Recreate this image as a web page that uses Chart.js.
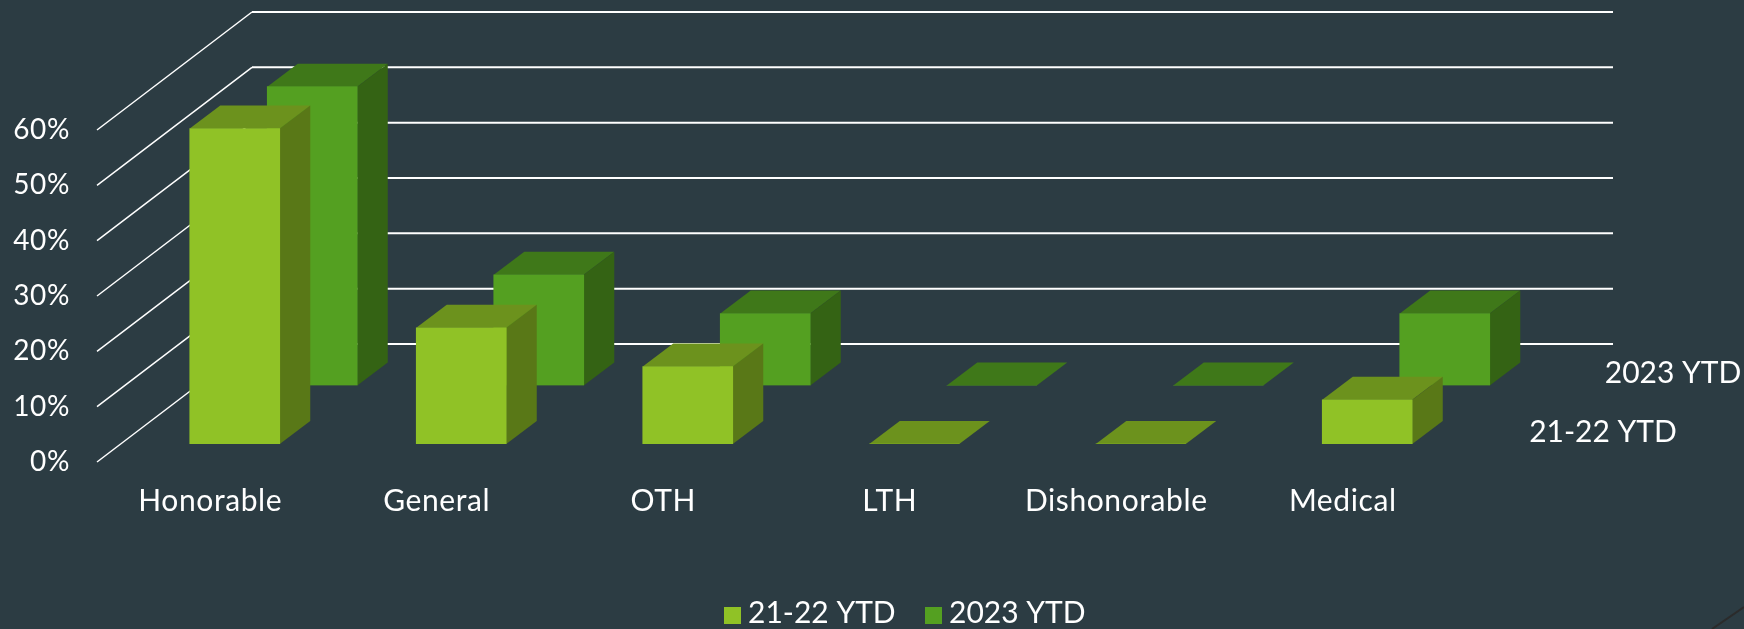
<!DOCTYPE html>
<html>
<head>
<meta charset="utf-8">
<style>
  html, body { margin: 0; padding: 0; background: #2C3C43; overflow: hidden; }
  canvas { display: block; }
</style>
<script src="https://cdn.jsdelivr.net/npm/chart.js@4"></script>
</head>
<body>
<canvas id="myChart" width="1744" height="629"></canvas>
<script>
const categories = ['Honorable', 'General', 'OTH', 'LTH', 'Dishonorable', 'Medical'];
const ytd2122 = [57, 21, 14, 0, 0, 8];
const ytd2023 = [54, 20, 13, 0, 0, 13];

const fontFamily = 'Lato, "Noto Sans", sans-serif';
const fontSize = 30;

// how far the floor runs back, and where each series stands on it
const wallDepth = { x: 155, y: 118 };
const barDepth = { x: 30.5, y: 23 };
const seriesShift = [{ x: 24.5, y: 18 }, { x: 102, y: 76.5 }];
const wallRight = 1613;

function face(ctx, color, pts) {
    ctx.fillStyle = color;
    ctx.beginPath();
    pts.forEach((p, i) => i ? ctx.lineTo(p[0], p[1]) : ctx.moveTo(p[0], p[1]));
    ctx.closePath();
    ctx.fill();
}

const fake3d = {
    id: 'fake3d',
    beforeDraw(chart) {
        // axis labels are spaced a little wider in the original
        chart.ctx.letterSpacing = '0.6px';
    },
    beforeDatasetsDraw(chart) {
        const ctx = chart.ctx;
        const y = chart.scales.y;
        const left = chart.scales.x.left;
        ctx.letterSpacing = '0px';
        ctx.save();
        ctx.strokeStyle = '#ffffff';
        y.ticks.forEach(t => {
            const py = y.getPixelForValue(t.value);
            ctx.lineWidth = 1.5;
            ctx.beginPath();
            ctx.moveTo(left, py);
            ctx.lineTo(left + wallDepth.x, py - wallDepth.y);
            ctx.stroke();
            ctx.lineWidth = 2;
            ctx.beginPath();
            ctx.moveTo(left + wallDepth.x, py - wallDepth.y);
            ctx.lineTo(wallRight, py - wallDepth.y);
            ctx.stroke();
        });
        ctx.restore();
    },
    beforeDatasetDraw(chart, args) {
        const ctx = chart.ctx;
        const ds = chart.data.datasets[args.index];
        const shift = seriesShift[args.index];
        ctx.save();
        ctx.translate(shift.x, -shift.y);
        args.meta.data.forEach(bar => {
            const b = bar.getProps(['x', 'y', 'base', 'width'], true);
            const l = b.x - b.width / 2, r = b.x + b.width / 2;
            const dx = barDepth.x, dy = barDepth.y;
            face(ctx, ds.topColor, [[l, b.y], [l + dx, b.y - dy], [r + dx, b.y - dy], [r, b.y]]);
            if (b.base - b.y > 0.5) {
                face(ctx, ds.sideColor, [[r, b.y], [r + dx, b.y - dy], [r + dx, b.base - dy], [r, b.base]]);
            }
        });
    },
    afterDatasetDraw(chart) {
        chart.ctx.restore();
    },
    afterDraw(chart) {
        const ctx = chart.ctx;
        const ds = chart.data.datasets;
        ctx.save();
        ctx.fillStyle = '#ffffff';
        ctx.font = fontSize + 'px ' + fontFamily;
        ctx.textBaseline = 'middle';
        // series names on the depth axis
        ctx.textAlign = 'center';
        ctx.fillText(ds[1].label, 1673, 373);
        ctx.fillText(ds[0].label, 1603, 432);
        // legend
        ctx.textAlign = 'left';
        ctx.fillStyle = ds[0].backgroundColor;
        ctx.fillRect(724, 607, 17, 17);
        ctx.fillStyle = ds[1].backgroundColor;
        ctx.fillRect(925, 607, 17, 17);
        ctx.fillStyle = '#ffffff';
        ctx.fillText(ds[0].label, 748, 613);
        ctx.fillText(ds[1].label, 949, 613);
        // slide corner decoration
        ctx.strokeStyle = '#2B2B2B';
        ctx.lineWidth = 2;
        ctx.beginPath();
        ctx.moveTo(1712, 629);
        ctx.lineTo(1744, 607);
        ctx.stroke();
        ctx.restore();
    }
};

new Chart(document.getElementById('myChart'), {
    type: 'bar',
    data: {
        labels: categories,
        datasets: [
            { label: '21-22 YTD', data: ytd2122, backgroundColor: '#90C226', topColor: '#6C921D', sideColor: '#597817', grouped: false },
            { label: '2023 YTD', data: ytd2023, backgroundColor: '#54A021', topColor: '#3F7819', sideColor: '#346314', grouped: false }
        ]
    },
    options: {
        responsive: false,
        animation: false,
        barThickness: 90,
        layout: { padding: { top: 130, right: 288, left: 0, bottom: 0 } },
        plugins: { legend: { display: false }, tooltip: { enabled: false } },
        scales: {
            x: {
                grid: { display: false, drawTicks: false },
                border: { display: false },
                afterFit(scale) { scale.height = 167; },
                ticks: {
                    color: '#ffffff',
                    padding: 21,
                    autoSkip: false,
                    maxRotation: 0,
                    font: { family: fontFamily, size: fontSize }
                }
            },
            y: {
                min: 0,
                max: 60,
                grid: { display: false, drawTicks: false },
                border: { display: false },
                afterFit(scale) { scale.width = 97; },
                ticks: {
                    stepSize: 10,
                    color: '#ffffff',
                    padding: 27,
                    callback: v => v + '%',
                    font: { family: fontFamily, size: 28 }
                }
            }
        }
    },
    plugins: [fake3d]
});
</script>
</body>
</html>
